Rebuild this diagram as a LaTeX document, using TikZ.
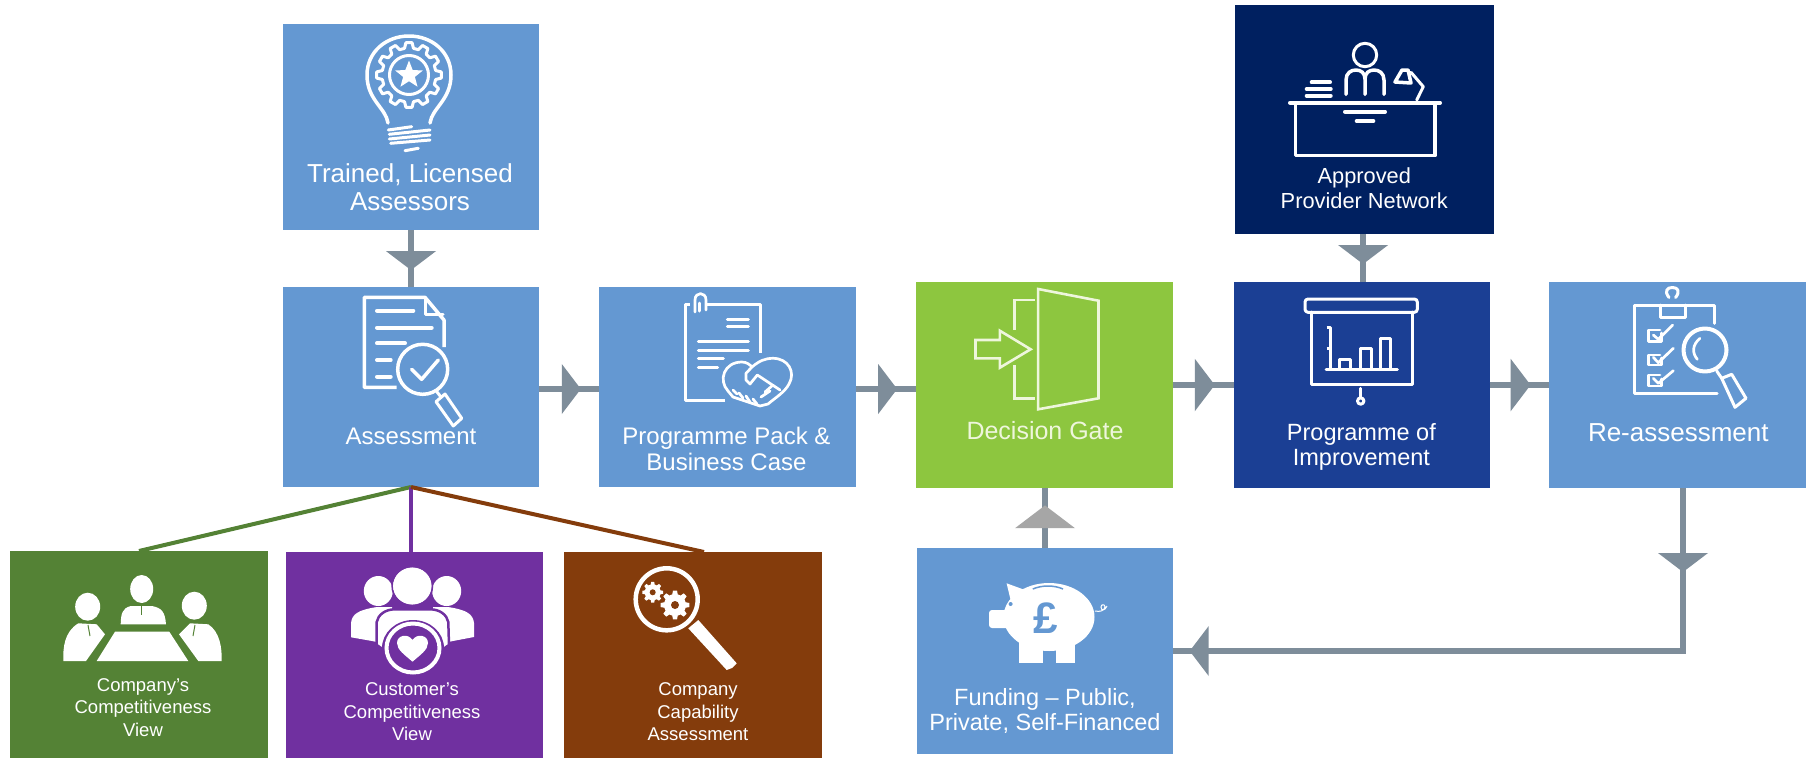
\documentclass[tikz,border=0pt]{standalone}
\usepackage{fontspec}
\setmainfont{Liberation Sans}
\usetikzlibrary{calc}
\definecolor{cblue}{HTML}{6498D2}
\definecolor{clime}{HTML}{8DC63F}
\definecolor{croyal}{HTML}{1B3F94}
\definecolor{cnavy}{HTML}{002060}
\definecolor{cgreen}{HTML}{548235}
\definecolor{cpurple}{HTML}{7030A0}
\definecolor{cbrown}{HTML}{843C0C}
\definecolor{cflow}{HTML}{7E8D9A}
\definecolor{cgrey}{HTML}{A6A6A6}
\definecolor{clight}{HTML}{EEF6DC}
\newcommand\gearpath[3]{({-.32*360/#3}:#2) \foreach \t in {1,...,#3} { -- ({(\t-1)*360/#3-.18*360/#3}:#1) -- ({(\t-1)*360/#3+.18*360/#3}:#1) -- ({(\t-1)*360/#3+.32*360/#3}:#2) -- ({\t*360/#3-.32*360/#3}:#2) } -- cycle}
\tikzset{
  box/.style={rectangle,inner sep=0pt,outer sep=0pt,draw=none},
  lab/.style={text=white,inner sep=0pt,align=center,text height=18pt,text depth=5pt,yshift=-1pt},
  lab26/.style={lab,font=\fontsize{26}{30}\selectfont},
  lab25/.style={lab,font=\fontsize{25}{30}\selectfont},
  lab24/.style={lab,font=\fontsize{24}{30}\selectfont},
  labsmall/.style={lab,text height=13.3pt,text depth=3.7pt,font=\fontsize{18.5}{22}\selectfont},
  labmid/.style={lab,text height=15.7pt,text depth=4.4pt,font=\fontsize{21.8}{27}\selectfont},
  flow/.style={cflow,line width=6pt},
  iconline/.style={draw=white,line width=3pt,line cap=round,line join=round},
  iconfine/.style={draw=white,line width=2.7pt,line cap=round,line join=round},
  iconbar/.style={draw=white,line width=4pt,line cap=round,line join=round},
  tipflow/.style={fill=cflow},
  tipgrey/.style={fill=cgrey},
  flowtip/.pic={\fill[#1] (0,-25) -- (19,0) -- (0,25) -- cycle;}
}
\begin{document}
\begin{tikzpicture}[x=1pt,y=-1pt]
\useasboundingbox (0,0) rectangle (1810,758);
\fill[white] (0,0) rectangle (1810,758);
% boxes
\node[box,fill=cblue,minimum width=256pt,minimum height=206pt] (trained) at (411,127) {};
\node[box,fill=cblue,minimum width=256pt,minimum height=200pt] (assess) at (411,387) {};
\node[box,fill=cblue,minimum width=257pt,minimum height=200pt] (pack) at (727.5,387) {};
\node[box,fill=clime,minimum width=257pt,minimum height=206pt] (gate) at (1044.4,385) {};
\node[box,fill=croyal,minimum width=256pt,minimum height=206pt] (poi) at (1361.7,385) {};
\node[box,fill=cblue,minimum width=256.5pt,minimum height=206pt] (re) at (1677.7,385) {};
\node[box,fill=cnavy,minimum width=259.4pt,minimum height=229pt] (approved) at (1364.6,119.5) {};
\node[box,fill=cblue,minimum width=255.4pt,minimum height=206pt] (fund) at (1045,651) {};
\node[box,fill=cgreen,minimum width=258pt,minimum height=207pt] (view1) at (139,654.5) {};
\node[box,fill=cpurple,minimum width=257pt,minimum height=206pt] (view2) at (414.5,655) {};
\node[box,fill=cbrown,minimum width=258pt,minimum height=206pt] (view3) at (693,655) {};
% connectors
\draw[flow] (trained.south) -- coordinate[pos=.37] (t1) (assess.north);
\pic[rotate=-90] at (t1) {flowtip=tipflow};
\draw[flow] ([yshift=-2pt]assess.east) -- coordinate[pos=.38] (t2) ([yshift=-2pt]pack.west);
\pic at (t2) {flowtip=tipflow};
\draw[flow] ([yshift=-2pt]pack.east) -- coordinate[pos=.37] (t3) ([yshift=-4pt]gate.west);
\pic at (t3) {flowtip=tipflow};
\draw[flow] (gate.east) -- coordinate[pos=.36] (t4) (poi.west);
\pic[scale=1.05] at (t4) {flowtip=tipflow};
\draw[flow] (poi.east) -- coordinate[pos=.35] (t5) (re.west);
\pic[scale=1.05] at (t5) {flowtip=tipflow};
\draw[flow] ([xshift=-1.5pt]approved.south) -- coordinate[pos=.23] (t6) ([xshift=-1.5pt]approved.south |- poi.north);
\pic[rotate=-90] at (t6) {flowtip=tipflow};
\draw[flow] (fund.north) -- coordinate[pos=.33] (t7) (fund.north |- gate.south);
\pic[rotate=90,scale=1.2] at (t7) {flowtip=tipgrey};
\draw[flow] ([xshift=5.3pt]re.south) |- (fund.east);
\coordinate (t8) at ($(re.south)+(5.3,65)$);
\pic[rotate=-90] at (t8) {flowtip=tipflow};
\coordinate (t9) at ($(fund.east)+(36,0)$);
\pic[rotate=180] at (t9) {flowtip=tipflow};
\draw[cgreen,line width=4pt] (assess.south) -- (view1.north);
\draw[cpurple,line width=4pt] (assess.south) -- (assess.south |- view2.north);
\draw[cbrown,line width=4pt] (assess.south) -- ([xshift=11pt]view3.north);
% labels
\node[lab26] (l1) at (410,175) {Trained, Licensed};
\node[lab26] (l2) at (410,203) {Assessors};
\node[lab24] (l3) at (411,437) {Assessment};
\node[lab24] (l4) at (726.5,437) {Programme Pack \&};
\node[lab24] (l5) at (726.5,463) {Business Case};
\node[lab25,text=clight] (l6) at (1045,432) {Decision Gate};
\node[lab,font=\fontsize{23.5}{28}\selectfont] (l7) at (1361.4,433) {Programme of};
\node[lab,font=\fontsize{23.5}{28}\selectfont] (l8) at (1361.4,458) {Improvement};
\node[lab26] (l9) at (1678.3,434) {Re-assessment};
\node[labmid] (l10) at (1364.3,177) {Approved};
\node[labmid] (l11) at (1364.3,202) {Provider Network};
\node[lab,font=\fontsize{23.5}{28}\selectfont] (l12) at (1045,698) {Funding – Public,};
\node[lab,font=\fontsize{23.5}{28}\selectfont] (l13) at (1045,723) {Private, Self-Financed};
\node[labsmall] (l14) at (143,686) {Company’s};
\node[labsmall] (l15) at (143,708) {Competitiveness};
\node[labsmall] (l16) at (143,731) {View};
\node[labsmall] (l17) at (412,690) {Customer’s};
\node[labsmall] (l18) at (412,713) {Competitiveness};
\node[labsmall] (l19) at (412,735) {View};
\node[labsmall] (l20) at (698,690) {Company};
\node[labsmall] (l21) at (698,713) {Capability};
\node[labsmall] (l22) at (698,735) {Assessment};
% --- bulb icon
\draw[iconline,line width=3.5pt] (388,123) .. controls (386,108) and (367,100) .. (367,75) .. controls (367,52) and (386,36) .. (409,36) .. controls (432,36) and (451,52) .. (451,75) .. controls (451,100) and (432,108) .. (430,123);
\begin{scope}[shift={(409,75)}]
\draw[iconline] \gearpath{32.5}{27}{12};
\draw[iconline] (0,0) circle (19.5);
\fill[white] (-90:14.5) -- (-54:6.2) -- (-18:14.5) -- (18:6.2) -- (54:14.5) -- (90:6.2) -- (126:14.5) -- (162:6.2) -- (198:14.5) -- (234:6.2) -- cycle;
\end{scope}
\draw[iconline] (388.3,130) -- (411.7,126.7) (389.3,134.3) -- (430,130) (389.3,139) -- (430,135) (390.7,143.3) -- (430,140) (405,150.7) -- (418.3,148.3);
% --- document & lens
\draw[iconline,line width=3.5pt,line cap=butt] (396.7,387.3) -- (364.3,387.3) -- (364.3,297.3) -- (425,297.3) -- (444,320) -- (444,347);
\draw[iconline] (425.5,299) -- (425.5,314) -- (443,314);
\draw[iconbar] (377,310.7) -- (413.3,310.7) (377,327.7) -- (431.7,327.7) (377,343.3) -- (405,343.3) (377,360) -- (390.7,360) (377,376.7) -- (390.7,376.7);
\draw[iconline,line width=3.5pt] (422.7,369.3) circle (25);
\draw[iconline,line width=3.5pt] (411.7,369.3) -- (421.7,379.3) -- (438.3,360);
\draw[iconline] (437,392) -- (441,397);
\draw[iconline] (436,401.7) -- (445,394) -- (461.7,418.3) -- (453.3,426) -- cycle;
% --- pack & handshake
\draw[iconline,line cap=butt] (725,400.7) -- (685,400.7) -- (685,304) -- (690,304) (706,304) -- (760.7,304) -- (760.7,352.7);
\draw[iconfine] (695,312) -- (695,300) .. controls (695,291.5) and (706,291.5) .. (706,300) -- (706,310);
\draw[iconline] (699.5,303) -- (699.5,311);
\draw[iconline] (727.3,319) -- (748.3,319) (727.3,326.7) -- (748.3,326.7) (698.3,341) -- (748.3,341) (698.3,350) -- (748.3,350) (698.3,358.3) -- (723.3,358.3) (698.3,367.3) -- (717.7,367.3);
\draw[iconfine] (728,391) .. controls (718,380) and (724,362) .. (742,362) .. controls (747,362) and (750,365) .. (752,367) .. controls (759,361) and (765,358.3) .. (773,358.3) .. controls (788,358.3) and (796,372) .. (789,384) .. controls (785,392) and (775,398) .. (768,404) -- (760,406) -- (745,401) -- (733,397) -- cycle;
\draw[iconfine] (752,367) -- (746,373.3) -- (746,380) -- (750,384) -- (757.3,375) -- (780,390);
\draw[iconfine] (733,390) -- (737,394) (739,393) -- (743,398) (746,396) -- (750,402) (753,399) -- (757,404) (765,392) -- (773,385) (761,397) -- (770,391);
% --- door
\draw[draw=clight,line width=2.6pt,line join=miter] (1038.1,289) -- (1098.5,300.7) -- (1098.5,398.3) -- (1038.1,409.3) -- cycle;
\draw[draw=clight,line width=2.6pt] (1034.6,300) -- (1014.3,300) -- (1014.3,330);
\draw[draw=clight,line width=2.6pt] (1014.3,365) -- (1014.3,398.3) -- (1034.6,398.3);
\draw[draw=clight,line width=2.6pt] (975.5,340) -- (999.8,340) -- (999.8,330.7) -- (1030.6,349.3) -- (999.8,367.7) -- (999.8,358.3) -- (975.5,358.3) -- cycle;
% --- desk
\draw[iconline] (1365,55) circle (11.7);
\draw[iconline,line width=3.5pt] (1346,94.3) -- (1346,80) .. controls (1346,73) and (1351,70) .. (1356,70) .. controls (1361,70) and (1365,73) .. (1365,79) -- (1365,94.3);
\draw[iconline,line width=3.5pt] (1365,79) .. controls (1365,73) and (1369,70) .. (1374,70) .. controls (1379,70) and (1384,73) .. (1384,80) -- (1384,94.3);
\draw[iconbar] (1311.7,82.3) -- (1330,82.3) (1306.7,89) -- (1330.7,89) (1306.7,95.7) -- (1330.7,95.7);
\draw[iconline] (1416.7,100) -- (1423.3,86.7) -- (1411,72.3);
\draw[iconline,line width=3.5pt] (1395,82) -- (1411,83) -- (1408,70) -- (1402,70) -- cycle;
\draw[iconbar] (1290,102.7) -- (1440,102.7) (1345,111.7) -- (1385,111.7) (1356.7,121) -- (1373.3,121);
\draw[iconline,line width=3.5pt] (1295.7,103) -- (1295.7,155.7) -- (1435,155.7) -- (1435,103);
% --- screen
\draw[iconline,rounded corners=3pt] (1305,299) rectangle (1417.3,312.3);
\draw[iconline] (1311.7,312) -- (1311.7,384.3) -- (1412.7,384.3) -- (1412.7,312);
\draw[iconline] (1326,369) -- (1397.3,369);
\draw[iconline,line cap=butt] (1326.7,327.3) -- (1330.7,327.3) -- (1330.7,369) (1326.7,348.3) -- (1330.7,348.3);
\draw[iconline] (1339.3,369) -- (1339.3,359.3) -- (1350,359.3) -- (1350,369) (1360,369) -- (1360,348.3) -- (1371,348.3) -- (1371,369) (1380.7,369) -- (1380.7,338.3) -- (1390.7,338.3) -- (1390.7,369);
\draw[iconline] (1360.7,388.3) -- (1360.7,397);
\draw[iconline] (1360.7,401) circle (3.2);
% --- clipboard
\draw[iconline] (1669,297.5) .. controls (1664,291) and (1667,287.5) .. (1672.3,287.5) .. controls (1677.6,287.5) and (1680.6,291) .. (1675.6,297.5);
\draw[iconline] (1714,323.3) -- (1714,305) -- (1634,305) -- (1634,393.3) -- (1717,393.3);
\draw[iconline] (1660.7,305) -- (1660.7,317.3) -- (1685,317.3) -- (1685,305);
\draw[iconfine] (1661.7,333) -- (1661.7,341.7) -- (1648.3,341.7) -- (1648.3,330) -- (1660,330) (1661.7,358) -- (1661.7,365) -- (1648.3,365) -- (1648.3,355) -- (1660,355) (1661.7,379) -- (1661.7,386) -- (1648.3,386) -- (1648.3,375) -- (1660,375);
\draw[iconfine] (1653.3,335) -- (1658.3,339.3) -- (1672.7,325) (1653.3,357.3) -- (1658.3,362.7) -- (1673.3,348.3) (1653.3,378.3) -- (1658.3,383.3) -- (1673.3,370.7);
\draw[iconline,line width=4pt] (1705,350) circle (21.5);
\draw[iconfine] (1700,338.3) .. controls (1692,345) and (1692,353) .. (1697.3,359.3);
\draw[iconline] (1716.7,371) -- (1721.7,378.3);
\draw[iconline] (1721.7,378.3) -- (1731.7,374.3) -- (1746,398.3) -- (1735,407.3) -- cycle;
% --- meeting
\fill[white] (115,631.7) -- (169.3,631.7) -- (188.3,661) -- (96.7,661) -- cycle;
\fill[white] (141.7,589) ellipse (11.5 and 14);
\fill[white] (120.7,624.3) -- (166,624.3) .. controls (165,612) and (162,608) .. (152,606) -- (131,606) .. controls (122,608) and (121,614) .. (120.7,624.3) -- cycle;
\draw[cgreen,line width=1pt] (141,606) -- (141,615);
\fill[white] (87.7,606.7) ellipse (12.5 and 14);
\fill[white] (63.3,661) .. controls (63,648) and (64,632) .. (78.3,623.3) -- (96.7,624.3) -- (105,634.3) -- (86,661) -- cycle;
\draw[cgreen,line width=1pt] (88,625) -- (90,636);
\fill[white] (194.3,605.7) ellipse (12.5 and 14);
\fill[white] (221.7,661) .. controls (222,648) and (220,632) .. (208.3,624.3) -- (190,623.3) -- (179,634.3) -- (198.3,661) -- cycle;
\draw[cgreen,line width=1pt] (195,625) -- (193,636);
% --- team
\fill[white] (378.3,591) ellipse (14.5 and 15);
\fill[white] (446.7,591) ellipse (14.5 and 15);
\fill[white] (351,637.3) -- (351,623) .. controls (352,614) and (358,610) .. (377,607) -- (392,607) -- (392,645) -- (372,641) -- cycle;
\fill[white] (474,637) -- (474,623) .. controls (473,614) and (467,610) .. (448,607) -- (433,607) -- (433,645) -- (453,641) -- cycle;
\filldraw[white,draw=cpurple,line width=2.5pt] (376.7,645) -- (376.7,622) .. controls (378,615) and (385,609.3) .. (395,609.3) -- (430,609.3) .. controls (440,609.3) and (447,615) .. (448.3,622) -- (449,645) -- (413,670) -- cycle;
\fill[white] (412.3,586) ellipse (19.5 and 18.8);
\draw[cpurple,line width=1.5pt] (412.3,586) ellipse (20.2 and 19.5);
\fill[cpurple] (413,648) ellipse (31 and 28);
\filldraw[fill=cpurple,draw=white,line width=4pt] (413,648) ellipse (26.5 and 24.5);
\fill[white] (412.5,661.7) .. controls (405,655) and (397,650) .. (397,643) .. controls (397,635) and (408,633) .. (412.5,640) .. controls (417,633) and (428,635) .. (428,643) .. controls (428,650) and (420,655) .. (412.5,661.7) -- cycle;
% --- gears magnifier
\draw[white,line width=4.5pt] (666.7,599.3) circle (31);
\fill[white] (688.3,628.3) -- (698.3,620) -- (736.7,663.3) -- (732,668) -- (726.7,670) -- cycle;
\begin{scope}[shift={(652.7,592.3)}]
\fill[white] \gearpath{10.5}{8}{8};
\fill[cbrown] (0,0) circle (3);
\end{scope}
\begin{scope}[shift={(675,605)}]
\fill[white] \gearpath{14.5}{11}{8};
\fill[cbrown] (0,0) circle (4);
\end{scope}
% --- piggy
\fill[white] (1049,617) ellipse (45.5 and 34);
\fill[white,rounded corners=3pt] (989,610) rectangle (1010,628);
\fill[white] (1006.6,583.3) -- (1025,590) -- (1010.6,600) -- cycle;
\fill[white] (1019.4,640) rectangle (1042.7,663);
\fill[white] (1056,640) rectangle (1074.7,663);
\draw[cblue,line width=1.5pt] (1032.8,589) .. controls (1042,585) and (1054,585) .. (1063,589);
\fill[cblue] (1010.6,604) circle (2);
\draw[white,line width=1pt] (1095,611) .. controls (1100,612) and (1104,611) .. (1105,607) .. controls (1105,604) and (1101,604) .. (1101,607) .. controls (1101,611) and (1105,611) .. (1107,606);
\node[text=cblue,inner sep=0pt,font=\fontsize{44}{50}\selectfont\bfseries] (pound) at (1045.6,618) {£};
\end{tikzpicture}
\end{document}
